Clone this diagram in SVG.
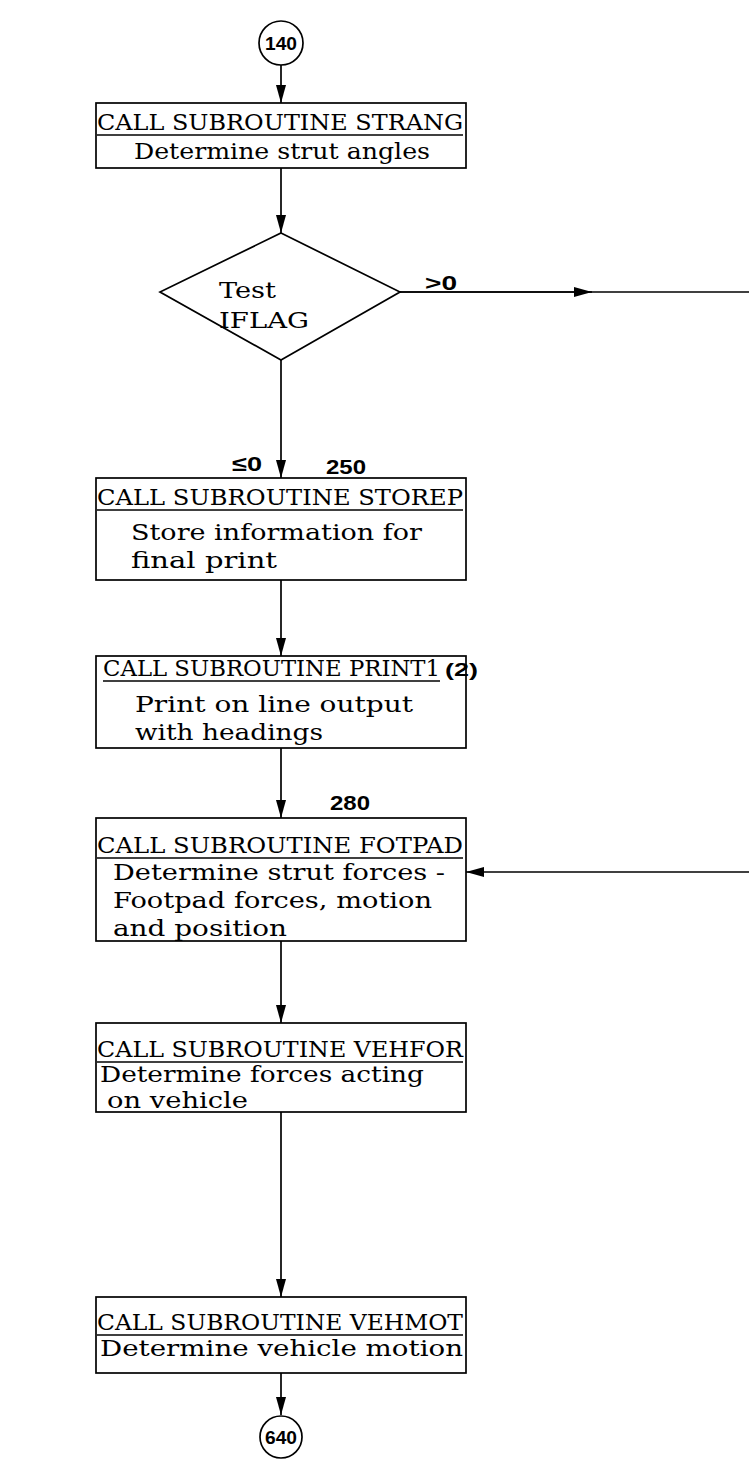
<svg xmlns="http://www.w3.org/2000/svg" width="749" height="1482" viewBox="0 0 749 1482">
<defs>
<marker id="ah" viewBox="0 0 18 12" refX="18" refY="6" markerWidth="18" markerHeight="12" markerUnits="userSpaceOnUse" orient="auto">
<path d="M0,1 L18,6 L0,11 Z" fill="#000"/>
</marker>
</defs>
<style>
.box{fill:#fff;stroke:#000;stroke-width:1.7}
.ln{fill:none;stroke:#000;stroke-width:1.7}
.ul{fill:none;stroke:#000;stroke-width:1.4}
.t{font-family:"DejaVu Serif","Liberation Serif",serif;font-size:23px;fill:#000}
.n{font-family:"Liberation Sans","DejaVu Sans",sans-serif;font-size:21px;font-weight:bold;fill:#000}
.c{font-family:"Liberation Sans","DejaVu Sans",sans-serif;font-size:19px;font-weight:bold;fill:#000}
</style>
<rect width="749" height="1482" fill="#fff"/>
<g id="connectors">
<line class="ln" x1="281" y1="65" x2="281" y2="103" marker-end="url(#ah)"/>
<line class="ln" x1="281" y1="168" x2="281" y2="233" marker-end="url(#ah)"/>
<line class="ln" x1="400" y1="292" x2="749" y2="292"/>
<line class="ln" x1="400" y1="292" x2="592" y2="292" marker-end="url(#ah)"/>
<line class="ln" x1="281" y1="360" x2="281" y2="478" marker-end="url(#ah)"/>
<line class="ln" x1="281" y1="580" x2="281" y2="656" marker-end="url(#ah)"/>
<line class="ln" x1="281" y1="748" x2="281" y2="818" marker-end="url(#ah)"/>
<line class="ln" x1="749" y1="872" x2="466" y2="872" marker-end="url(#ah)"/>
<line class="ln" x1="281" y1="941" x2="281" y2="1023" marker-end="url(#ah)"/>
<line class="ln" x1="281" y1="1112" x2="281" y2="1297" marker-end="url(#ah)"/>
<line class="ln" x1="281" y1="1373" x2="281" y2="1415" marker-end="url(#ah)"/>
<text class="n" x="425" y="290" textLength="32" lengthAdjust="spacingAndGlyphs">&gt;0</text>
<text class="n" x="232" y="471" textLength="30" lengthAdjust="spacingAndGlyphs">≤0</text>
<text class="n" x="326" y="474" textLength="40" lengthAdjust="spacingAndGlyphs">250</text>
<text class="n" x="330" y="810" textLength="40" lengthAdjust="spacingAndGlyphs">280</text>
</g>
<g id="c140">
<circle class="box" cx="281" cy="43" r="22"/>
<text class="c" x="281" y="50" text-anchor="middle" textLength="32" lengthAdjust="spacingAndGlyphs">140</text>
</g>
<g id="strang">
<rect class="box" x="96" y="103" width="370" height="65"/>
<text class="t" x="97" y="130" textLength="366" lengthAdjust="spacingAndGlyphs">CALL SUBROUTINE STRANG</text>
<line class="ul" x1="97" y1="135" x2="463" y2="135"/>
<text class="t" x="134" y="159" textLength="296" lengthAdjust="spacingAndGlyphs">Determine strut angles</text>
</g>
<g id="iflag">
<polygon class="box" points="281,233 400,292 281,360 160,292"/>
<text class="t" x="219" y="298" textLength="57" lengthAdjust="spacingAndGlyphs">Test</text>
<text class="t" x="219" y="328" textLength="90" lengthAdjust="spacingAndGlyphs">IFLAG</text>
</g>
<g id="storep">
<rect class="box" x="96" y="478" width="370" height="102"/>
<text class="t" x="97" y="505" textLength="366" lengthAdjust="spacingAndGlyphs">CALL SUBROUTINE STOREP</text>
<line class="ul" x1="97" y1="510" x2="463" y2="510"/>
<text class="t" x="131" y="540" textLength="291" lengthAdjust="spacingAndGlyphs">Store information for</text>
<text class="t" x="131" y="568" textLength="146" lengthAdjust="spacingAndGlyphs">final print</text>
</g>
<g id="print1">
<rect class="box" x="96" y="656" width="370" height="92"/>
<text class="t" x="103" y="676" textLength="337" lengthAdjust="spacingAndGlyphs">CALL SUBROUTINE PRINT1</text>
<line class="ul" x1="103" y1="681" x2="440" y2="681"/>
<text class="c" x="445" y="676" textLength="33" lengthAdjust="spacingAndGlyphs">(2)</text>
<text class="t" x="135" y="712" textLength="278" lengthAdjust="spacingAndGlyphs">Print on line output</text>
<text class="t" x="135" y="740" textLength="188" lengthAdjust="spacingAndGlyphs">with headings</text>
</g>
<g id="fotpad">
<rect class="box" x="96" y="818" width="370" height="123"/>
<text class="t" x="97" y="853" textLength="366" lengthAdjust="spacingAndGlyphs">CALL SUBROUTINE FOTPAD</text>
<line class="ul" x1="97" y1="858" x2="463" y2="858"/>
<text class="t" x="113" y="880" textLength="332" lengthAdjust="spacingAndGlyphs">Determine strut forces -</text>
<text class="t" x="113" y="908" textLength="319" lengthAdjust="spacingAndGlyphs">Footpad forces, motion</text>
<text class="t" x="113" y="936" textLength="174" lengthAdjust="spacingAndGlyphs">and position</text>
</g>
<g id="vehfor">
<rect class="box" x="96" y="1023" width="370" height="89"/>
<text class="t" x="97" y="1057" textLength="366" lengthAdjust="spacingAndGlyphs">CALL SUBROUTINE VEHFOR</text>
<line class="ul" x1="97" y1="1062" x2="463" y2="1062"/>
<text class="t" x="100" y="1082" textLength="324" lengthAdjust="spacingAndGlyphs">Determine forces acting</text>
<text class="t" x="107" y="1108" textLength="141" lengthAdjust="spacingAndGlyphs">on vehicle</text>
</g>
<g id="vehmot">
<rect class="box" x="96" y="1297" width="370" height="76"/>
<text class="t" x="97" y="1330" textLength="366" lengthAdjust="spacingAndGlyphs">CALL SUBROUTINE VEHMOT</text>
<line class="ul" x1="97" y1="1335" x2="463" y2="1335"/>
<text class="t" x="100" y="1356" textLength="363" lengthAdjust="spacingAndGlyphs">Determine vehicle motion</text>
</g>
<g id="c640">
<circle class="box" cx="281" cy="1437" r="21"/>
<text class="c" x="281" y="1444" text-anchor="middle" textLength="32" lengthAdjust="spacingAndGlyphs">640</text>
</g>
</svg>
